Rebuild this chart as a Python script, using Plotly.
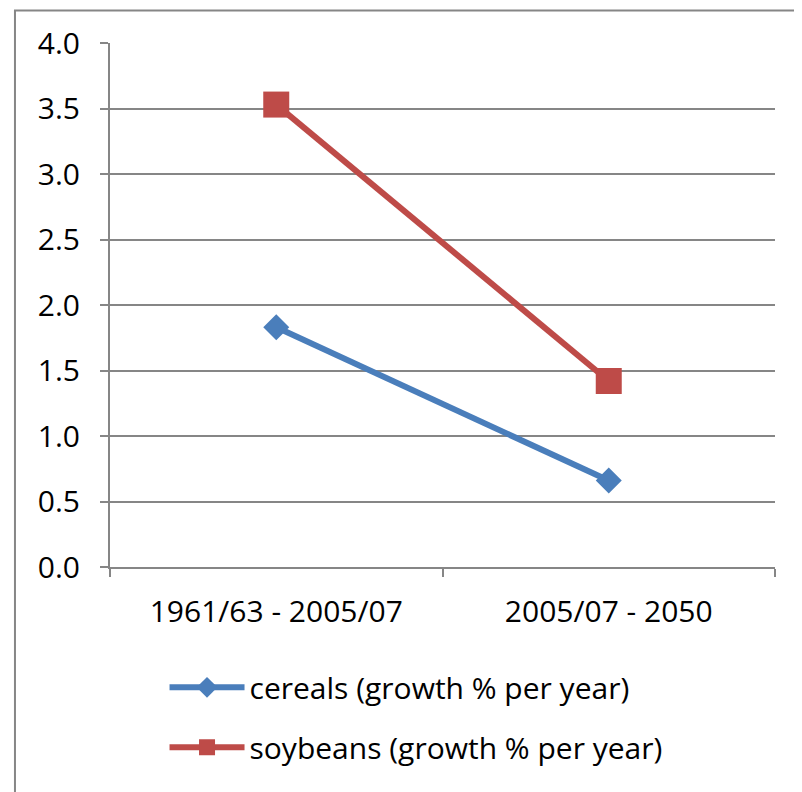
import plotly.graph_objects as go

categories = ["1961/63 - 2005/07", "2005/07 - 2050"]
cereals = [1.83, 0.66]
soybeans = [3.53, 1.42]
series_names = ["cereals (growth % per year)", "soybeans (growth % per year)"]
y_ticks = [0.0, 0.5, 1.0, 1.5, 2.0, 2.5, 3.0, 3.5, 4.0]

FONT = "Open Sans"
GRID = "#868686"

fig = go.Figure()
fig.add_trace(go.Scatter(
    x=categories, y=cereals, name=series_names[0], mode="lines+markers",
    line=dict(color="#4A7EBB", width=6),
    marker=dict(symbol="diamond", size=20, color="#4A7EBB"),
    legendgroup="a",
))
fig.add_trace(go.Scatter(
    x=categories, y=soybeans, name=series_names[1], mode="lines+markers",
    line=dict(color="#BE4B48", width=6),
    marker=dict(symbol="square", size=26, color="#BE4B48"),
    legendgroup="b",
))

fig.update_layout(
    width=794, height=784,
    margin=dict(l=102, r=27, t=35, b=225),
    paper_bgcolor="white", plot_bgcolor="white",
    font=dict(family=FONT, size=30, color="black"),
    showlegend=True,
    legend=dict(
        x=0.082, y=-0.18, xanchor="left", yanchor="top",
        traceorder="grouped", tracegroupgap=18,
        itemwidth=75,
        font=dict(family=FONT, size=30, color="black"),
        bgcolor="rgba(0,0,0,0)",
    ),
    xaxis=dict(
        type="category", range=[-0.5, 1.5],
        showline=True, linecolor=GRID, linewidth=2,
        ticks="outside", tickson="boundaries", ticklen=8, tickwidth=2, tickcolor=GRID,
        showgrid=False, zeroline=False,
        tickfont=dict(family=FONT, size=30, color="black"),
        ticklabelstandoff=17,
    ),
    yaxis=dict(
        range=[0, 4], tickvals=y_ticks, tickformat=".1f",
        showline=True, linecolor=GRID, linewidth=2,
        ticks="outside", ticklen=8, tickwidth=2, tickcolor=GRID,
        showgrid=True, gridcolor=GRID, gridwidth=2,
        zeroline=False,
        tickfont=dict(family=FONT, size=30, color="black"),
        ticklabelstandoff=14,
    ),
    shapes=[dict(
        type="rect", xref="paper", yref="paper",
        x0=-0.1429, y0=-0.6, x1=1.2, y1=1.062,
        line=dict(color=GRID, width=2), fillcolor="rgba(0,0,0,0)", layer="above",
    )],
)

fig.write_html("out.html")
